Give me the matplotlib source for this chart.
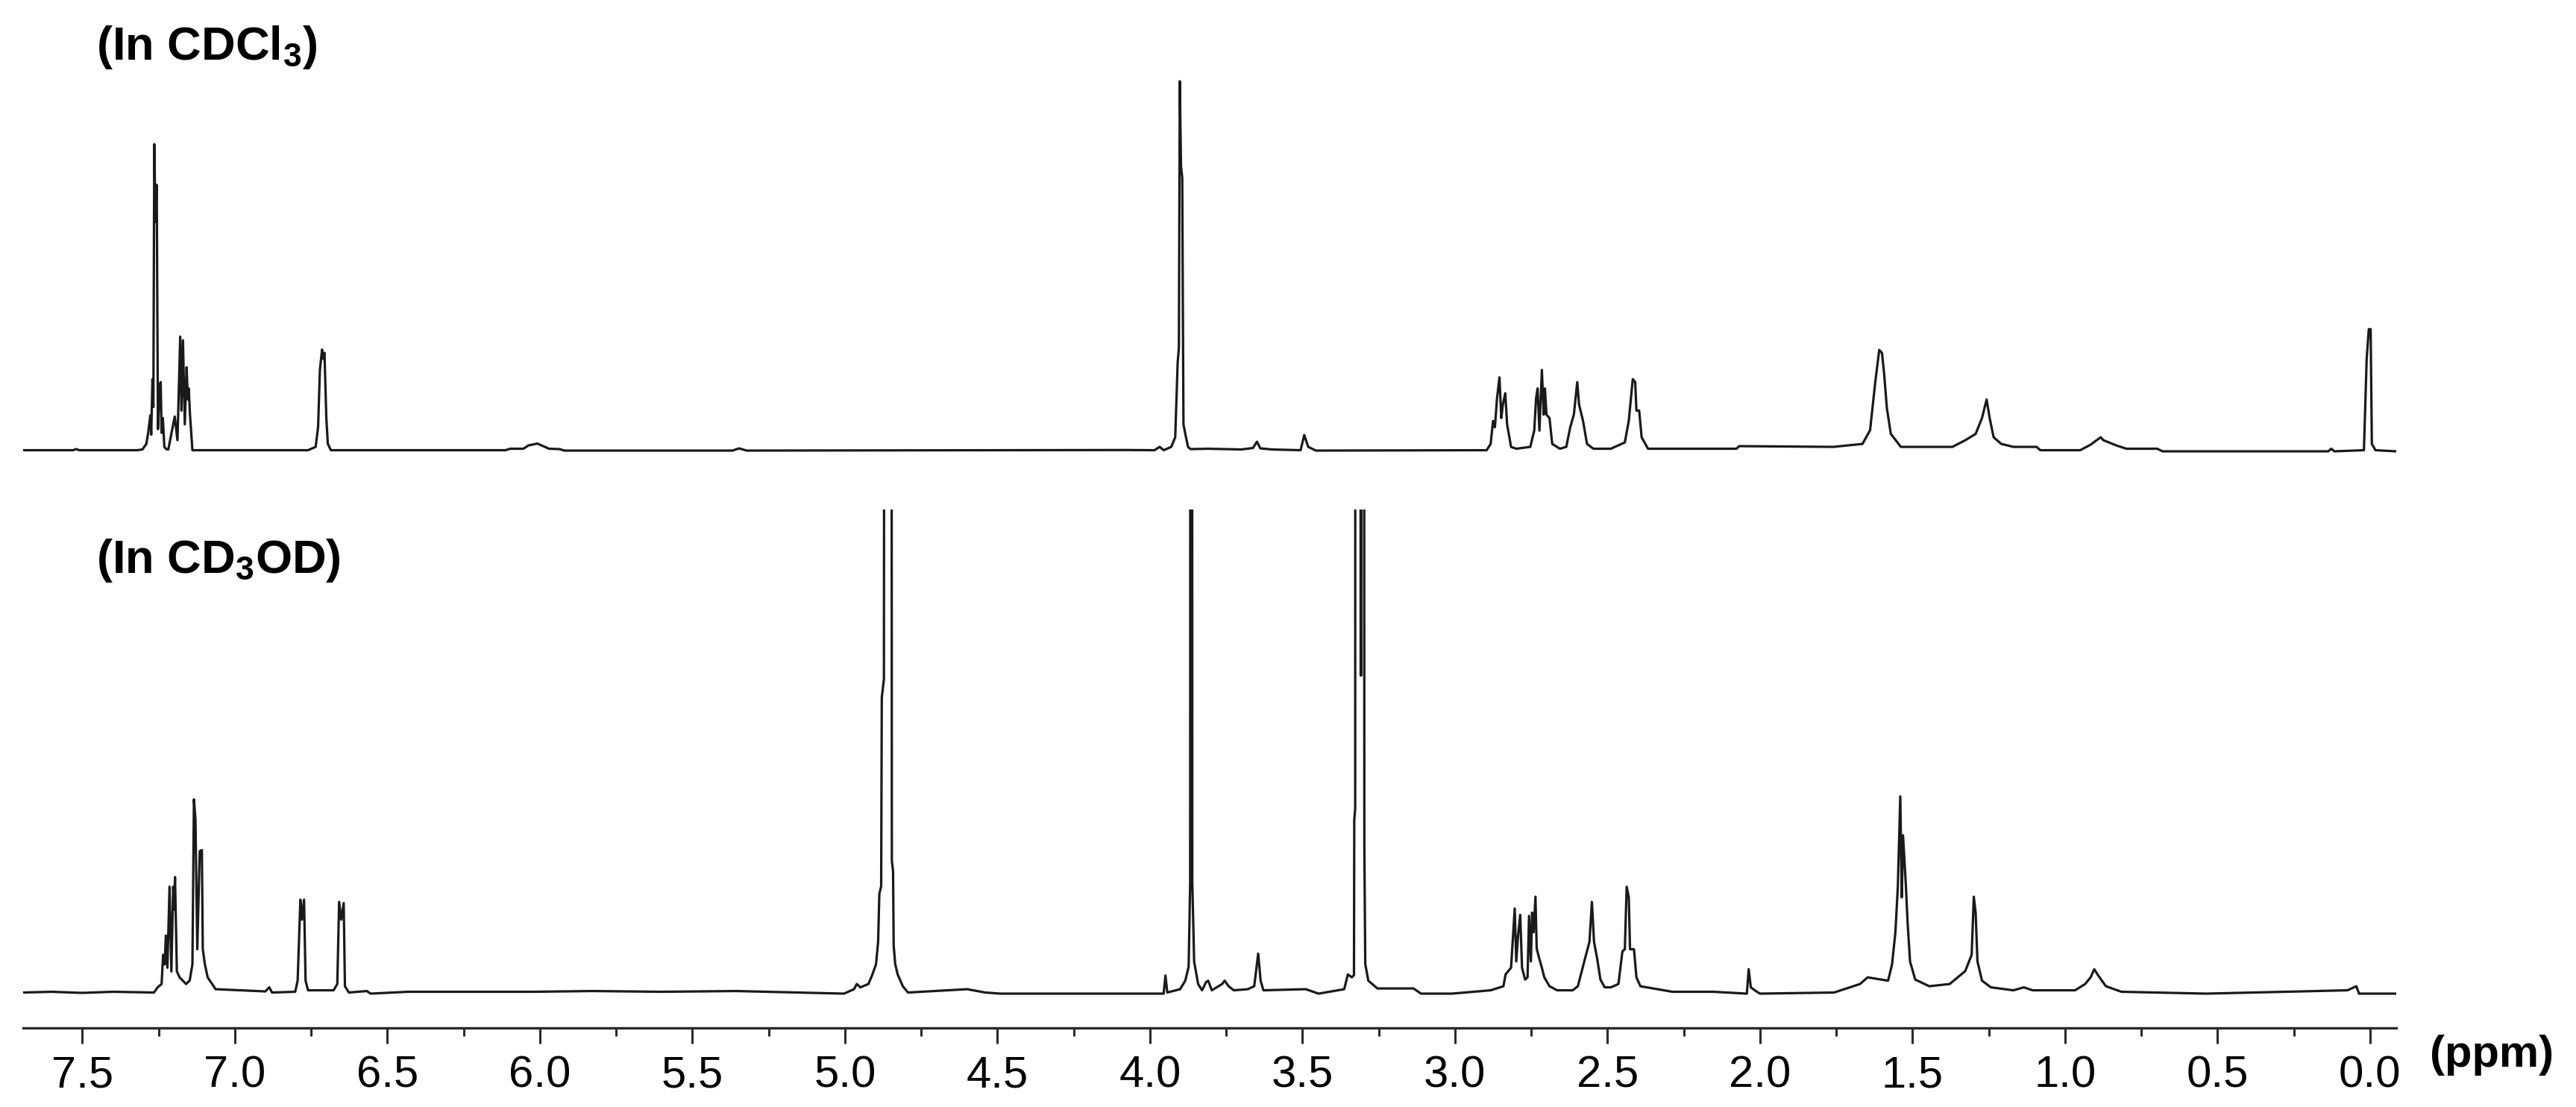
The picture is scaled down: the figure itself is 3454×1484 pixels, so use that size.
import matplotlib
matplotlib.use("Agg")
import matplotlib.pyplot as plt
from matplotlib.ticker import MultipleLocator, FormatStrFormatter

plt.rcParams['font.family'] = ['Liberation Sans', 'DejaVu Sans']
plt.rcParams['mathtext.fontset'] = 'custom'
plt.rcParams['mathtext.rm'] = 'Liberation Sans:bold'
plt.rcParams['mathtext.bf'] = 'Liberation Sans:bold'
plt.rcParams['mathtext.it'] = 'Liberation Sans:bold'

# spectrum in CDCl3 (ppm, intensity; 100 = tallest peak)
cdcl3_ppm = [7.694, 7.530, 7.520, 7.510, 7.320, 7.303, 7.290, 7.284, 7.277, 7.274,
             7.270, 7.267, 7.264, 7.260, 7.256, 7.252, 7.246, 7.243, 7.240, 7.236,
             7.231, 7.225, 7.218, 7.206, 7.197, 7.188, 7.179, 7.175, 7.170, 7.164,
             7.158, 7.154, 7.151, 7.147, 7.139, 6.760, 6.735, 6.727, 6.721, 6.714,
             6.710, 6.706, 6.700, 6.695, 6.685, 6.113, 6.097, 6.054, 6.037, 6.008,
             5.970, 5.936, 5.919, 5.368, 5.347, 5.322, 4.077, 3.985, 3.968, 3.955,
             3.930, 3.917, 3.909, 3.905, 3.902, 3.898, 3.894, 3.890, 3.884, 3.875,
             3.867, 3.809, 3.700, 3.662, 3.649, 3.638, 3.600, 3.506, 3.494, 3.481,
             3.456, 2.896,
             2.883, 2.875, 2.869, 2.862, 2.854, 2.848, 2.843, 2.835, 2.829, 2.816,
             2.799, 2.753, 2.740, 2.734, 2.729, 2.723, 2.715, 2.709, 2.705, 2.700,
             2.690, 2.681, 2.656, 2.635, 2.622, 2.610, 2.599, 2.593, 2.580, 2.567,
             2.546, 2.489, 2.443, 2.430, 2.417, 2.409, 2.405, 2.396, 2.388, 2.367,
             2.077, 2.068, 1.760, 1.664, 1.639, 1.622, 1.609, 1.600, 1.593, 1.584,
             1.571, 1.538, 1.369, 1.327, 1.293, 1.272, 1.257, 1.247, 1.234, 1.209,
             1.169, 1.093, 1.081, 0.950, 0.916, 0.883, 0.874, 0.832, 0.799, 0.698,
             0.680, 0.137, 0.127, 0.117, 0.020, 0.011, 0.004, -0.002, -0.006, -0.018,
             -0.086]
cdcl3_int = [0.3, 0.3, 0.6, 0.3, 0.3, 0.5, 2, 5, 9.7, 4.5,
             19.5, 12, 83, 62, 72, 6, 18, 18.7, 5, 9,
             1.2, 0.6, 0.5, 5.6, 9.4, 3, 31, 11, 30, 7.3,
             22.7, 14, 17, 10, 0.3, 0.3, 1.2, 6.5, 22, 27.5,
             25, 26.6, 9, 2, 0.3, 0.3, 0.7, 0.7, 1.6, 2.1,
             0.7, 0.6, 0.2, 0.2, 0.8, 0.2, 0.35, 0.3, 1.2, 0.3,
             1.2, 3.8, 24, 28, 100, 77, 74, 7.3, 4.7, 1.2,
             0.6, 0.7, 0.5, 0.9, 2.6, 0.8, 0.5, 0.3, 4.4, 1.2,
             0.2, 0.3,
             2, 8.2, 6.5, 14.3, 20, 9, 12.6, 15.7, 7.3, 1.2,
             0.7, 1.2, 5.6, 14.3, 17, 5.6, 22, 9.9, 17, 9.9,
             9, 2, 0.7, 1.2, 6.5, 10, 18.7, 12.6, 8.2, 2,
             0.7, 0.7, 2.4, 8.3, 19.5, 18.7, 11, 11, 3.8, 0.7,
             0.7, 1.4, 1.2, 2, 5.7, 18.7, 27.4, 26.6, 21, 11.7,
             4.7, 1.2, 1.2, 3, 4.7, 9, 14, 9, 3.8, 2,
             1.2, 1.2, 0.3, 0.3, 1.8, 3.8, 3, 1.6, 0.7, 0.7,
             0.0, 0.0, 0.7, 0.0, 0.3, 25, 33, 33, 2, 0.3,
             0.0]

# spectrum in CD3OD (same intensity scale, solvent peaks run off the top)
cd3od_ppm = [7.694, 7.600, 7.500, 7.400, 7.265, 7.253, 7.240, 7.235, 7.230, 7.226,
             7.221, 7.214, 7.208, 7.202, 7.199, 7.196, 7.190, 7.181, 7.160, 7.148,
             7.139, 7.134, 7.129, 7.123, 7.115, 7.108, 7.105, 7.098, 7.089, 7.063,
             6.900, 6.887, 6.878, 6.802, 6.794, 6.785, 6.780, 6.773, 6.768, 6.760,
             6.676, 6.664, 6.658, 6.651, 6.643, 6.639, 6.626, 6.567, 6.555, 6.433,
             6.025, 5.828, 5.600, 5.356, 5.003, 4.970, 4.961, 4.949, 4.923, 4.911,
             4.898, 4.891, 4.887, 4.881, 4.879, 4.872, 4.869, 4.858, 4.848, 4.846,
             4.842, 4.840, 4.835, 4.827, 4.810, 4.793, 4.599, 4.540, 4.490, 3.955,
             3.949, 3.943, 3.901, 3.884, 3.873, 3.868, 3.8665, 3.8625, 3.861, 3.855,
             3.842, 3.829, 3.816, 3.809, 3.797, 3.763, 3.755, 3.742, 3.725, 3.679,
             3.658, 3.645, 3.637, 3.628, 3.489, 3.447, 3.363, 3.351, 3.338, 3.331,
             3.330, 3.327, 3.3255, 3.3125, 3.309, 3.307, 3.3045, 3.2995, 3.297, 3.294,
             3.284, 3.254, 3.136, 3.111, 3.010, 2.883, 2.841, 2.834, 2.816, 2.810,
             2.804, 2.799, 2.793, 2.786, 2.780, 2.770, 2.762, 2.757, 2.751, 2.747,
             2.742, 2.736, 2.732, 2.724, 2.715, 2.707, 2.690, 2.665, 2.614, 2.597,
             2.576, 2.559, 2.551, 2.544, 2.534, 2.523, 2.509, 2.489, 2.464, 2.451,
             2.443, 2.437, 2.430, 2.426, 2.413, 2.405, 2.392, 2.287, 2.153, 2.043,
             2.037, 2.030, 2.017, 2.000, 1.757, 1.672, 1.647, 1.580, 1.567, 1.556,
             1.548, 1.540, 1.535, 1.531, 1.522, 1.516, 1.508, 1.491, 1.445, 1.378,
             1.327, 1.306, 1.299, 1.293, 1.287, 1.272, 1.243, 1.169, 1.135, 1.106,
             0.967, 0.934, 0.916, 0.904, 0.891, 0.866, 0.815, 0.537, 0.074, 0.045,
             0.036, -0.086]
cd3od_int = [0.3, 0.5, 0.2, 0.5, 0.3, 1.7, 2.6, 10.5, 7.9, 15.7,
             7, 28.9, 6, 28.9, 22.7, 31.5, 6, 4.4, 2.6, 3.5,
             7.9, 52.5, 47, 12, 38.5, 38.8, 12, 7.9, 4.4, 1.2,
             0.6, 1.7, 0.3, 0.5, 3.5, 25.4, 20, 25.4, 3.5, 0.9,
             0.9, 2.6, 24.8, 20, 24.5, 2, 0.3, 0.7, 0.0, 0.5,
             0.5, 0.7, 0.5, 0.7, 0.0, 1.2, 2.6, 1.7, 2.6, 4.9,
             7.9, 14, 27, 29, 80, 85, 400, 600, 400, 36,
             33, 13, 8, 5.2, 2, 0.3, 1.2, 0.3, 0.0, 0.0,
             4.9, 0.3, 1.2, 3.5, 7.3, 30, 600, 600, 30, 8.7,
             2.6, 0.9, 3.1, 3.5, 0.9, 2.6, 3.5, 2, 0.9, 1.2,
             2, 10.8, 3.5, 0.9, 1.2, 0.0, 1.2, 5.2, 4.4, 5,
             47, 50, 600, 600, 86, 86, 600, 600, 40, 8,
             3.5, 1.4, 1.4, 0.0, 0.0, 0.9, 2, 5.2, 7, 14.9,
             23, 8.7, 15.7, 21.3, 7, 3.8, 4.4, 21, 8.7, 21.9,
             16.6, 26.2, 12.2, 9.6, 7, 4.4, 2, 0.9, 0.9, 2,
             8.7, 14, 24.8, 14, 9.6, 3.8, 1.7, 1.7, 2.6, 11.4,
             12, 28.9, 26, 12, 12, 4.4, 2, 0.5, 0.5, 0.0,
             6.6, 1.7, 0.9, 0.0, 0.3, 2.6, 4.4, 3.5, 7.9, 16.6,
             28.9, 53.3, 26, 42.8, 29.7, 19.2, 8.7, 3.8, 2, 2.6,
             6.1, 10.5, 26.2, 21.9, 8.7, 3.5, 1.7, 0.9, 1.7, 0.9,
             0.9, 2.6, 4.4, 6.6, 4.9, 2, 0.5, 0.0, 0.9, 2,
             0.0, 0.0]

x_range = (7.694, -0.086)
line_color = '#1a1a1a'

fig = plt.figure(figsize=(34.55, 14.84), dpi=100)
W, H = 3455, 1484

# top spectrum
ax1 = fig.add_axes([31 / W, 1 - 620 / H, 3182 / W, 520 / H])
ax1.plot(cdcl3_ppm, cdcl3_int, color=line_color, lw=2.3)
ax1.set_xlim(*x_range)
ax1.set_ylim(-3.02, 101.8)
ax1.axis('off')

# bottom spectrum with the ppm axis
ax2 = fig.add_axes([31 / W, 1 - 1378 / H, 3182 / W, 695 / H])
ax2.plot(cd3od_ppm, cd3od_int, color=line_color, lw=2.3)
ax2.set_xlim(*x_range)
ax2.set_ylim(-9.27, 130.85)
for s in ['left', 'right', 'top']:
    ax2.spines[s].set_visible(False)
ax2.spines['bottom'].set_linewidth(2.4)
ax2.spines['bottom'].set_color('#2a2a2a')
ax2.yaxis.set_visible(False)
ax2.xaxis.set_major_locator(MultipleLocator(0.5))
ax2.xaxis.set_minor_locator(MultipleLocator(0.25))
ax2.xaxis.set_major_formatter(FormatStrFormatter('%.1f'))
ax2.tick_params(axis='x', which='major', direction='out', length=15, width=2.2,
                color='#2a2a2a', labelsize=43, pad=11)
ax2.tick_params(axis='x', which='minor', direction='out', length=8, width=2.2,
                color='#2a2a2a')

fig.text(3258 / W, 1 - 1415 / H, '(ppm)', fontsize=43, fontweight='bold',
         ha='left', va='center')
fig.text(129 / W, 1 - 80 / H, r'(In CDCl$_{3}$)', fontsize=45.5,
         fontweight='bold', ha='left', va='baseline')
fig.text(129 / W, 1 - 768 / H, r'(In CD$_{3}$OD)', fontsize=45.5,
         fontweight='bold', ha='left', va='baseline')

fig.savefig('out.png', dpi=100)
